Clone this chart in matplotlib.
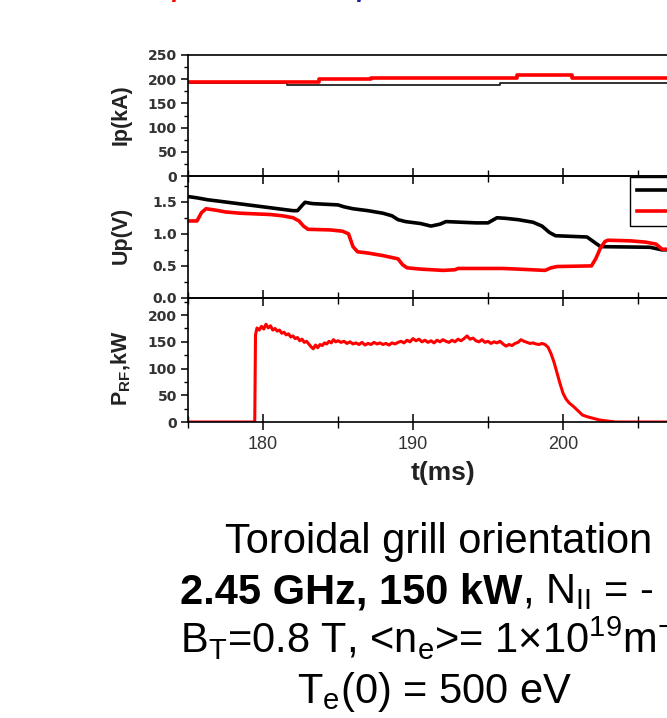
import matplotlib
matplotlib.use("Agg")
import matplotlib.pyplot as plt
from matplotlib.ticker import MultipleLocator, FormatStrFormatter

plt.rcParams['font.family'] = 'Liberation Sans'
plt.rcParams['mathtext.fontset'] = 'custom'
plt.rcParams['mathtext.rm'] = 'Liberation Sans'
plt.rcParams['mathtext.bf'] = 'Liberation Sans:bold'
plt.rcParams['mathtext.it'] = 'Liberation Sans:italic'

# plasma current Ip (kA)
ip_t_ohm = [175, 181.6, 195.8, 215]
ip_ohm = [193, 189, 192, 192]
ip_t_lh = [175, 183.7, 187.2, 196.9, 200.6, 215]
ip_lh = [195, 200, 203, 209, 203, 203]

# loop voltage Up (V)
up_t_ohm = [175, 175.6, 176.3, 177, 178, 179, 180, 181, 182, 182.3, 182.6, 182.8,
            183.3, 185, 185.4, 186, 187, 188, 188.6, 189, 189.5, 190.5, 191.2,
            191.8, 192.2, 194.2, 195, 195.6, 196.2, 197, 198, 198.6, 199.1,
            199.5, 201.6, 202.2, 202.5, 205.8, 206.6, 215]
up_ohm = [1.58, 1.56, 1.53, 1.51, 1.48, 1.45, 1.42, 1.39, 1.36, 1.36, 1.44, 1.49,
          1.47, 1.45, 1.42, 1.39, 1.36, 1.32, 1.28, 1.22, 1.19, 1.16, 1.12,
          1.15, 1.19, 1.17, 1.17, 1.25, 1.24, 1.22, 1.18, 1.12, 1.02,
          0.97, 0.95, 0.85, 0.80, 0.79, 0.75, 0.74]
up_t_lh = [175, 175.6, 175.9, 176.2, 176.8, 177.5, 178.5, 179.5, 180.5, 181.3,
           182.0, 182.4, 182.7, 183.0, 184.5, 185.3, 185.7, 186.0, 186.3, 187.0,
           188.0, 189.0, 189.3, 189.6, 190.5, 192.0, 192.8, 193.0, 196.0, 197.0,
           198.8, 199.2, 199.6, 201.9, 202.2, 202.5, 202.8, 203.0, 204.5, 205.5,
           206.2, 206.6, 215]
up_lh = [1.20, 1.20, 1.33, 1.39, 1.37, 1.34, 1.32, 1.31, 1.30, 1.28,
         1.25, 1.20, 1.12, 1.07, 1.06, 1.04, 1.00, 0.80, 0.72, 0.70,
         0.66, 0.61, 0.52, 0.47, 0.45, 0.43, 0.44, 0.46, 0.46, 0.45,
         0.43, 0.47, 0.49, 0.50, 0.62, 0.78, 0.88, 0.90, 0.89, 0.87,
         0.84, 0.76, 0.75]

# launched LH power (kW)
prf_t = [175, 179.45, 179.5, 179.6, 179.75, 179.9, 180.05, 180.2, 180.35, 180.5,
         180.65, 180.8, 180.95, 181.1, 181.25, 181.4, 181.55, 181.7, 181.85, 182.0,
         182.15, 182.3, 182.45, 182.6, 182.75, 182.9, 183.05, 183.2, 183.35, 183.5,
         183.65, 183.8, 183.95, 184.1, 184.25, 184.4, 184.55, 184.7, 184.85, 185.0,
         185.2, 185.4, 185.6, 185.8, 186.0, 186.2, 186.4, 186.6, 186.8, 187.0,
         187.2, 187.4, 187.6, 187.8, 188.0, 188.2, 188.4, 188.6, 188.8, 189.0,
         189.2, 189.4, 189.6, 189.8, 190.0, 190.2, 190.4, 190.6, 190.8, 191.0,
         191.2, 191.4, 191.6, 191.8, 192.0, 192.2, 192.4, 192.6, 192.8, 193.0,
         193.2, 193.4, 193.6, 193.8, 194.0, 194.2, 194.4, 194.6, 194.8, 195.0,
         195.2, 195.4, 195.6, 195.8, 196.0, 196.2, 196.4, 196.6, 196.8, 197.0,
         197.2, 197.4, 197.6, 197.8, 198.0, 198.2, 198.4, 198.6, 198.8, 199.0,
         199.2, 199.4, 199.6, 199.8, 200.0, 200.2, 200.4, 200.7, 201.0, 201.3,
         201.6, 202.0, 202.4, 202.9, 203.5, 215]
prf = [0, 0, 163, 176, 172, 179, 174, 183, 176, 180,
       172, 175, 170, 172, 166, 168, 163, 165, 159, 161,
       156, 158, 152, 155, 149, 151, 146, 141, 137, 144,
       139, 145, 143, 148, 146, 151, 148, 154, 150, 152,
       149, 151, 147, 150, 146, 148, 145, 149, 144, 147,
       145, 149, 146, 148, 145, 147, 144, 148, 146, 149,
       151, 148, 153, 150, 156, 152, 155, 150, 153, 149,
       152, 148, 153, 150, 154, 151, 149, 153, 150, 155,
       152, 156, 161, 155, 157, 152, 150, 154, 149, 151,
       147, 150, 148, 151, 146, 142, 145, 143, 147, 149,
       154, 151, 149, 147, 148, 146, 145, 147, 145, 140,
       128, 112, 92, 72, 54, 43, 36, 29, 21, 13,
       10, 7, 4, 2, 0, 0]

tick_col = '#333333'

fig = plt.figure(figsize=(6.67, 7.18), dpi=100)
W, H = 667.0, 718.0
left = 188 / W
width = 600 / W
ax1 = fig.add_axes([left, 1 - 176 / H, width, 121 / H])
ax2 = fig.add_axes([left, 1 - 298 / H, width, 122 / H])
ax3 = fig.add_axes([left, 1 - 422 / H, width, 124 / H])

ax1.step(ip_t_ohm, ip_ohm, where='post', color='#222222', lw=1.3)
ax1.step(ip_t_lh, ip_lh, where='post', color='red', lw=2.6)
ax1.set_ylim(0, 250)
ax1.yaxis.set_major_locator(MultipleLocator(50))
ax1.yaxis.set_minor_locator(MultipleLocator(25))

l_ohm, = ax2.plot(up_t_ohm, up_ohm, color='black', lw=2.6, label='Ohmic')
l_lh, = ax2.plot(up_t_lh, up_lh, color='red', lw=2.6, label='LHCD')
ax2.set_ylim(0, 1.9)
ax2.yaxis.set_major_locator(MultipleLocator(0.5))
ax2.yaxis.set_minor_locator(MultipleLocator(0.25))
ax2.yaxis.set_major_formatter(FormatStrFormatter('%.1f'))

ax3.plot(prf_t, prf, color='red', lw=2.2)
ax3.set_ylim(0, 232)
ax3.yaxis.set_major_locator(MultipleLocator(50))
ax3.yaxis.set_minor_locator(MultipleLocator(25))

for ax in (ax1, ax2, ax3):
    ax.set_xlim(175, 215)
    ax.xaxis.set_major_locator(MultipleLocator(10))
    ax.xaxis.set_minor_locator(MultipleLocator(5))
    for s in ax.spines.values():
        s.set_linewidth(1.2)
        s.set_color('black')
    ax.tick_params(axis='y', which='major', direction='out', length=5, width=1.1,
                   labelsize=10, labelcolor=tick_col, pad=3)
    ax.tick_params(axis='y', which='minor', direction='out', length=3, width=1.0)
    ax.tick_params(axis='x', which='major', direction='inout', length=12, width=1.1,
                   labelsize=13, labelcolor=tick_col, pad=4)
    ax.tick_params(axis='x', which='minor', direction='inout', length=8, width=1.0)
    for lab in ax.get_yticklabels():
        lab.set_fontfamily('DejaVu Sans')
        lab.set_fontweight('bold')
    ax.set_zorder(1)
    ax.patch.set_alpha(0)

ax1.tick_params(axis='x', labelbottom=False)
ax2.tick_params(axis='x', labelbottom=False)

fig.legend(handles=[l_ohm, l_lh], loc='upper left',
           bbox_to_anchor=(630 / W, 1 - 177 / H), borderaxespad=0,
           fancybox=False, edgecolor='black', framealpha=1, fontsize=11,
           handlelength=3.0, labelspacing=0.5, borderpad=0.45)

lab_kw = dict(rotation=90, ha='center', va='center', fontsize=15.5,
              fontweight='bold', color='#222222')
fig.text(121 / W, 1 - 115 / H, 'Ip(kA)', **lab_kw)
fig.text(121 / W, 1 - 235 / H, 'Up(V)', **lab_kw)
fig.text(121 / W, 1 - 368 / H, r'P$\mathregular{_{RF}}$,kW', **lab_kw)
fig.text(443 / W, 1 - 473 / H, 't(ms)', ha='center', va='center',
         fontsize=19, fontweight='bold', color='#222222')

# slide title above the plot (only descenders fall inside the frame)
fig.text(173 / W, 1 + 5.5 / H, 'p', color='red', style='italic', fontsize=28,
         va='baseline', ha='left')
fig.text(358 / W, 1 + 5.5 / H, 'p', color='#1a1a9a', style='italic', fontsize=28,
         va='baseline', ha='left')

# shot parameters
fs = 30
fig.text(225 / W, 1 - 553 / H, 'Toroidal grill orientation', fontsize=fs,
         va='baseline', ha='left')
bold_part = fig.text(180 / W, 1 - 603 / H, '2.45 GHz, 150 kW', fontsize=fs,
                     fontweight='bold', va='baseline', ha='left')
renderer = fig.canvas.get_renderer()
bb = bold_part.get_window_extent(renderer)
fig.text(bb.x1 / W, 1 - 603 / H, r', N$\mathregular{_{II}}$ = -  1.8',
         fontsize=fs, va='baseline', ha='left')
fig.text(180 / W, 1 - 653 / H,
         r'B$\mathregular{_T}$=0.8 T, <n$\mathregular{_e}$>= 1×10$\mathregular{^{19}}$m$\mathregular{^{-3}}$',
         fontsize=fs, va='baseline', ha='left')
fig.text(297 / W, 1 - 703 / H, r'T$\mathregular{_e}$(0) = 500 eV', fontsize=fs,
         va='baseline', ha='left')

fig.savefig('out.png', dpi=100)
